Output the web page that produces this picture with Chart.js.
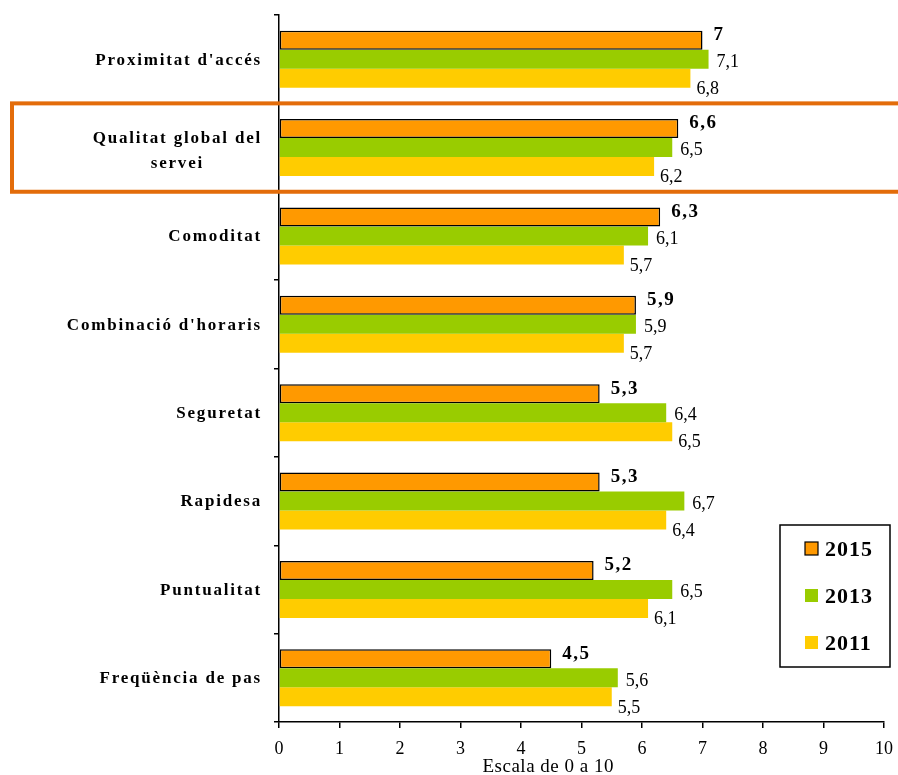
<!DOCTYPE html>
<html>
<head>
<meta charset="utf-8">
<style>
  html, body { margin: 0; padding: 0; background: #fff; }
  #wrap { width: 898px; height: 775px; position: relative; }
</style>
<script src="https://cdn.jsdelivr.net/npm/chart.js@4.4.1/dist/chart.umd.min.js"></script>
</head>
<body>
<div id="wrap"><canvas id="myChart" width="898" height="775"></canvas></div>
<script>
var categories = [
  "Proximitat d'accés",
  ["Qualitat global del", "servei"],
  "Comoditat",
  "Combinació d'horaris",
  "Seguretat",
  "Rapidesa",
  "Puntualitat",
  "Freqüència de pas"
];
var years = ["2015", "2013", "2011"];
var values2015 = [7, 6.6, 6.3, 5.9, 5.3, 5.3, 5.2, 4.5];
var values2013 = [7.1, 6.5, 6.1, 5.9, 6.4, 6.7, 6.5, 5.6];
var values2011 = [6.8, 6.2, 5.7, 5.7, 6.5, 6.4, 6.1, 5.5];
var xTicks = [0, 1, 2, 3, 4, 5, 6, 7, 8, 9, 10];
var highlighted = 1; // "Qualitat global del servei"

var serif = "'Liberation Serif', 'Times New Roman', serif";

function fmt(v) {
  return String(v).replace(".", ",");
}

// category names, spaced out a bit
var categoryLabels = {
  id: "categoryLabels",
  afterDraw: function (chart) {
    var ctx = chart.ctx;
    var y = chart.scales.y;
    var right = chart.chartArea.left - 17;
    ctx.save();
    ctx.font = "bold 17px " + serif;
    ctx.letterSpacing = "1.8px";
    ctx.fillStyle = "#000";
    ctx.textBaseline = "middle";
    chart.data.labels.forEach(function (lab, i) {
      var cy = y.getPixelForValue(i);
      if (Array.isArray(lab)) {
        // wrapped label: lines centred under the first one
        var lh = 25;
        var start = cy + 4 - (lab.length - 1) * lh / 2;
        var mid = right - ctx.measureText(lab[0]).width / 2;
        ctx.textAlign = "center";
        lab.forEach(function (line, k) {
          ctx.fillText(line, mid, start + k * lh);
        });
      } else {
        ctx.textAlign = "right";
        ctx.fillText(lab, right, cy + 1);
      }
    });
    ctx.restore();
  }
};

// value labels, bold for 2015, shifted per series
var valueLabels = {
  id: "valueLabels",
  afterDatasetsDraw: function (chart) {
    var ctx = chart.ctx;
    var offs = [
      { dx: 11, dy: -5, font: "bold 19px ", sp: "1.5px" },
      { dx: 8, dy: 3, font: "18px ", sp: "0px" },
      { dx: 6, dy: 11, font: "18px ", sp: "0px" }
    ];
    chart.data.datasets.forEach(function (ds, i) {
      var meta = chart.getDatasetMeta(i);
      meta.data.forEach(function (bar, j) {
        ctx.save();
        ctx.font = offs[i].font + serif;
        ctx.letterSpacing = offs[i].sp;
        ctx.fillStyle = "#000";
        ctx.textBaseline = "middle";
        ctx.textAlign = "left";
        ctx.fillText(fmt(ds.data[j]), bar.x + offs[i].dx, bar.y + offs[i].dy);
        ctx.restore();
      });
    });
  }
};

// highlight frame, legend box and axis title
var extras = {
  id: "extras",
  afterDraw: function (chart) {
    var ctx = chart.ctx;
    var y = chart.scales.y;
    var area = chart.chartArea;
    var band = (area.bottom - area.top) / categories.length;
    var cy = y.getPixelForValue(highlighted);

    ctx.save();
    ctx.strokeStyle = "#E36C0A";
    ctx.lineWidth = 4;
    ctx.strokeRect(12, cy - band / 2, 900, band);
    ctx.restore();

    // legend
    var lx = 780, ly = 525, lw = 110, lh = 142;
    ctx.save();
    ctx.fillStyle = "#fff";
    ctx.fillRect(lx, ly, lw, lh);
    ctx.strokeStyle = "#000";
    ctx.lineWidth = 1.5;
    ctx.strokeRect(lx, ly, lw, lh);
    chart.data.datasets.forEach(function (ds, i) {
      var ry = ly + 24 + i * 47;
      ctx.fillStyle = ds.backgroundColor;
      ctx.fillRect(lx + 25, ry - 7, 13, 13);
      if (ds.borderWidth) {
        ctx.strokeStyle = "#000";
        ctx.lineWidth = 1.2;
        ctx.strokeRect(lx + 25, ry - 7, 13, 13);
      }
      ctx.fillStyle = "#000";
      ctx.font = "bold 22px " + serif;
      ctx.letterSpacing = "1px";
      ctx.textBaseline = "middle";
      ctx.fillText(ds.label, lx + 45, ry + 1);
    });
    ctx.restore();

    ctx.save();
    ctx.font = "19px " + serif;
    ctx.letterSpacing = "0.5px";
    ctx.fillStyle = "#000";
    ctx.textAlign = "center";
    ctx.textBaseline = "middle";
    ctx.fillText("Escala de 0 a 10", area.left + (area.right - area.left) * 0.445, 767);
    ctx.restore();
  }
};

var ctx = document.getElementById("myChart").getContext("2d");
var myChart = new Chart(ctx, {
  type: "bar",
  data: {
    labels: categories,
    datasets: [
      {
        label: years[0],
        data: values2015,
        backgroundColor: "#FF9900",
        borderColor: "#000",
        borderWidth: 1.5,
        borderSkipped: false
      },
      {
        label: years[1],
        data: values2013,
        backgroundColor: "#99CC00",
        borderWidth: 0
      },
      {
        label: years[2],
        data: values2011,
        backgroundColor: "#FFCC00",
        borderWidth: 0
      }
    ]
  },
  options: {
    indexAxis: "y",
    responsive: false,
    animation: false,
    layout: { padding: { top: 15, right: 14, left: 0, bottom: 0 } },
    datasets: {
      bar: { categoryPercentage: 0.645, barPercentage: 1 }
    },
    plugins: {
      legend: { display: false },
      tooltip: { enabled: false }
    },
    scales: {
      x: {
        min: 0,
        max: 10,
        afterBuildTicks: function (s) {
          s.ticks = xTicks.map(function (v) { return { value: v }; });
        },
        afterFit: function (s) {
          s.height = 53;
          s.paddingLeft = 0;
          s.paddingRight = 0;
        },
        grid: { drawOnChartArea: false, drawTicks: true, tickLength: 6, color: "#000", lineWidth: 1.5 },
        border: { color: "#000", width: 1.5 },
        ticks: { color: "#000", padding: 10, font: { family: serif, size: 18 } }
      },
      y: {
        afterFit: function (s) {
          s.width = 279;
          s.paddingTop = 0;
          s.paddingBottom = 0;
        },
        grid: { drawOnChartArea: false, drawTicks: true, tickLength: 5, color: "#000", lineWidth: 1.5, offset: true },
        border: { color: "#000", width: 1.5 },
        ticks: { display: false }
      }
    }
  },
  plugins: [valueLabels, categoryLabels, extras]
});
</script>
</body>
</html>
